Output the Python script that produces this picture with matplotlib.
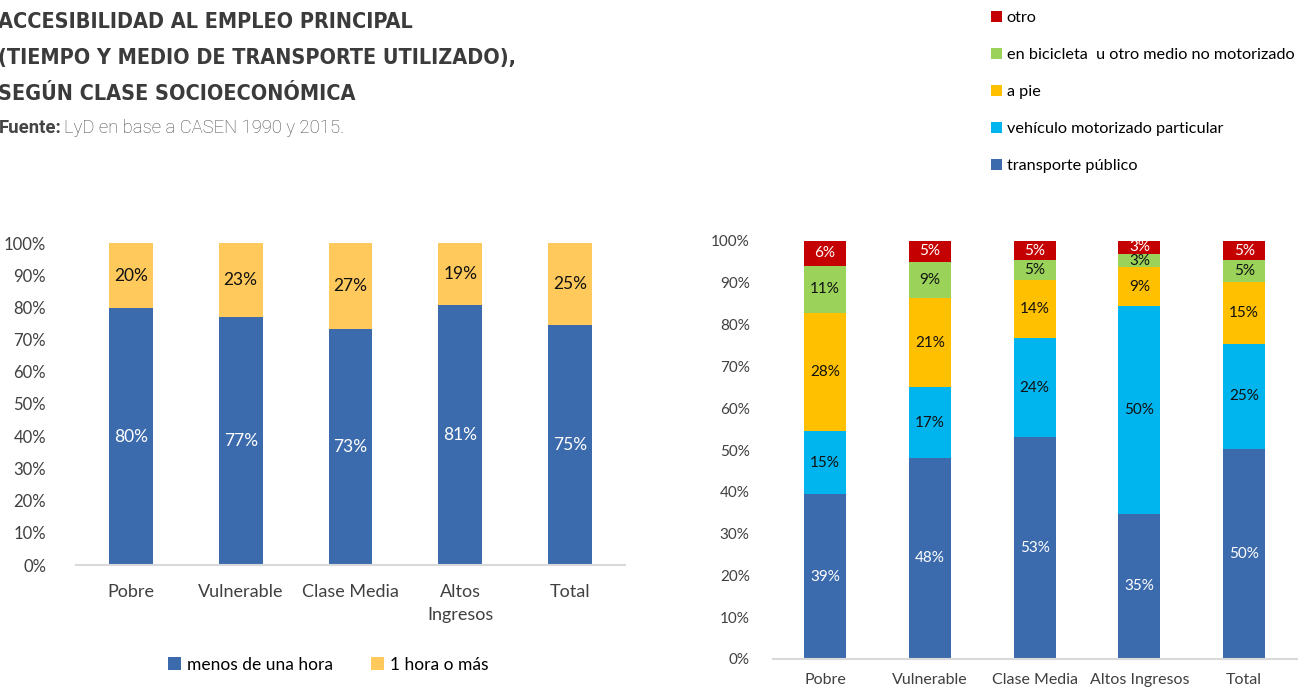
import numpy as np
import matplotlib
matplotlib.use("Agg")
import matplotlib.pyplot as plt
from matplotlib.patches import Patch

plt.rcParams['font.family'] = ['Lato', 'DejaVu Sans']

# ---- data ----
clases = ["Pobre", "Vulnerable", "Clase Media", "Altos\nIngresos", "Total"]
clases_der = ["Pobre", "Vulnerable", "Clase Media", "Altos Ingresos", "Total"]

menos_hora = [79.7, 77.0, 73.3, 80.6, 74.6]
hora_o_mas = [20.3, 23.0, 26.7, 19.4, 25.4]

transporte_publico = [39.4, 48.1, 53.1, 34.8, 50.3]
vehiculo_particular = [15.1, 16.9, 23.7, 49.6, 25.0]
a_pie = [28.2, 21.4, 13.8, 9.3, 14.8]
bicicleta = [11.4, 8.6, 4.8, 3.2, 5.3]
otro = [5.9, 5.0, 4.6, 3.1, 4.6]

yticks = [0, 10, 20, 30, 40, 50, 60, 70, 80, 90, 100]

C_AZUL = "#3C6BAD"
C_AMAR_L = "#FFC95C"
C_CELESTE = "#00B4EE"
C_AMAR = "#FFC000"
C_VERDE = "#9BD35A"
C_ROJO = "#C40000"

fig = plt.figure(figsize=(13.04, 6.87), dpi=100)
W, H = 1304, 687


def fx(px):
    return px / W


def fy(py):
    return 1 - py / H


# ---- title ----
title_lines = ["ACCESIBILIDAD AL EMPLEO PRINCIPAL",
               "(TIEMPO Y MEDIO DE TRANSPORTE UTILIZADO),",
               "SEGÚN CLASE SOCIOECONÓMICA"]
for i, line in enumerate(title_lines):
    fig.text(fx(-2), fy(28 + 36 * i), line, fontsize=15.5,
             family='DejaVu Sans', stretch='condensed',
             weight='bold', color="#3b3b3b", va='baseline', ha='left')

fig.text(fx(-1), fy(133), "Fuente:", fontsize=13.3, family=['Roboto', 'DejaVu Sans'],
         weight='bold', color="#444444", va='baseline')
fig.text(fx(64), fy(133), "LyD en base a CASEN 1990 y 2015.", fontsize=13.3,
         family=['Roboto', 'DejaVu Sans'], weight='light', color="#4a4a4a", va='baseline')


def style_axis(ax, pad):
    ax.set_ylim(0, 100)
    ax.set_xlim(-0.5, 4.5)
    ax.set_yticks(yticks)
    ax.set_yticklabels([f"{t}%" for t in yticks])
    for s in ["top", "right", "left"]:
        ax.spines[s].set_visible(False)
    ax.spines["bottom"].set_color("#d9d9d9")
    ax.spines["bottom"].set_linewidth(1.5)
    ax.tick_params(axis='both', length=0, colors="#404040")
    ax.tick_params(axis='y', pad=pad)


# ---- left chart ----
ax1 = fig.add_axes([fx(76), fy(565), fx(625) - fx(76), fy(243) - fy(565)])
x = np.arange(len(clases))
b1 = ax1.bar(x, menos_hora, width=0.4, color=C_AZUL, label="menos de una hora")
b2 = ax1.bar(x, hora_o_mas, width=0.4, bottom=menos_hora, color=C_AMAR_L, label="1 hora o más")
ax1.bar_label(b1, labels=[f"{v:.0f}%" for v in menos_hora], label_type='center',
              color="white", fontsize=12.5)
ax1.bar_label(b2, labels=[f"{v:.0f}%" for v in hora_o_mas], label_type='center',
              color="#111111", fontsize=12.5)
style_axis(ax1, 21.5)
ax1.set_xticks(x)
ax1.set_xticklabels(clases, fontsize=13, linespacing=1.5)
ax1.tick_params(axis='x', pad=14)
ax1.tick_params(axis='y', labelsize=12)
ax1.legend(handles=[b1, b2], loc='center', bbox_to_anchor=(0.46, -0.31), ncol=2,
           frameon=False, fontsize=12.5, handlelength=0.75, handleheight=0.75,
           handletextpad=0.35, columnspacing=2.2)

# ---- right chart ----
ax2 = fig.add_axes([fx(772.6), fy(659), fx(1296.6) - fx(772.6), fy(241) - fy(659)])
series = [
    ("transporte público", transporte_publico, C_AZUL, "white"),
    ("vehículo motorizado particular", vehiculo_particular, C_CELESTE, "#111111"),
    ("a pie", a_pie, C_AMAR, "#111111"),
    ("en bicicleta  u otro medio no motorizado", bicicleta, C_VERDE, "#111111"),
    ("otro", otro, C_ROJO, "white"),
]
bottom = np.zeros(len(clases_der))
handles = []
for name, vals, col, tcol in series:
    bars = ax2.bar(x, vals, width=0.4, bottom=bottom, color=col, label=name)
    ax2.bar_label(bars, labels=[f"{v:.0f}%" for v in vals], label_type='center',
                  color=tcol, fontsize=11)
    bottom = bottom + np.array(vals)
    handles.append(Patch(facecolor=col, label=name))
style_axis(ax2, 16.5)
ax2.set_xticks(x)
ax2.set_xticklabels(clases_der, fontsize=11.5)
ax2.tick_params(axis='x', pad=10)
ax2.tick_params(axis='y', labelsize=11)

fig.legend(handles=handles[::-1], loc='upper left', bbox_to_anchor=(fx(984), fy(4)),
           frameon=False, fontsize=11.7, handlelength=0.7, handleheight=0.7,
           handletextpad=0.3, labelspacing=1.4, borderaxespad=0)

fig.savefig("out.png", dpi=100)
